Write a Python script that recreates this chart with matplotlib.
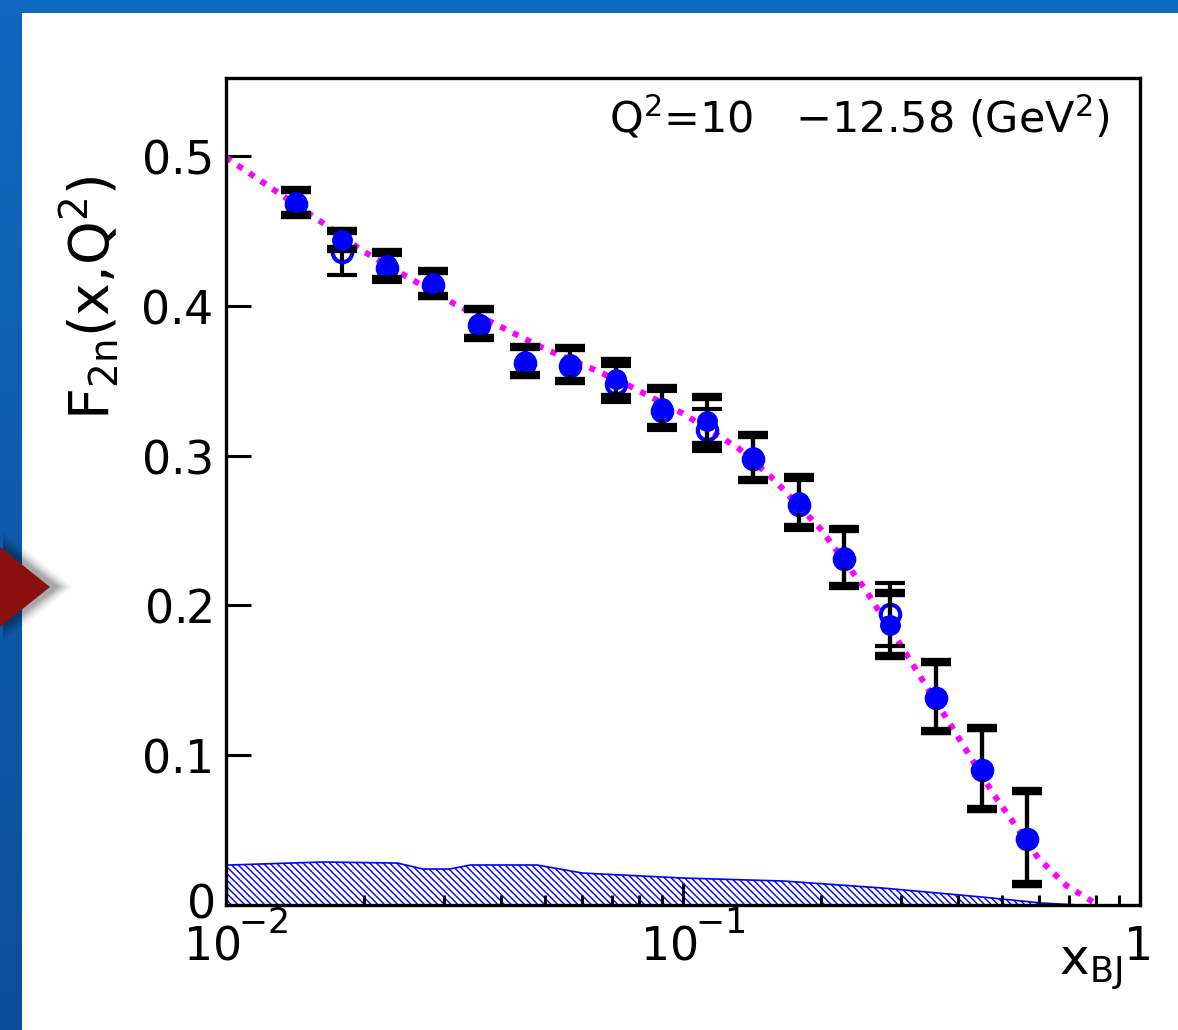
import numpy as np
import matplotlib.pyplot as plt
from matplotlib.patches import Polygon, Rectangle
from matplotlib.colors import LinearSegmentedColormap
import matplotlib.transforms as mtransforms

plt.rcParams['font.family'] = ['DejaVu Sans']
plt.rcParams['mathtext.default'] = 'regular'
plt.rcParams['hatch.linewidth'] = 1.0

# x_BJ bins
xbj = [0.0142, 0.0179, 0.0225, 0.0284, 0.0357, 0.045, 0.0566, 0.0713, 0.0898,
       0.113, 0.142, 0.179, 0.225, 0.284, 0.357, 0.45, 0.566]

# F2n, filled points (thick caps)
f2n_a = [0.469, 0.444, 0.427, 0.415, 0.388, 0.363, 0.361, 0.351, 0.332,
         0.323, 0.299, 0.269, 0.232, 0.187, 0.139, 0.091, 0.045]
err_a = [0.0085, 0.006, 0.009, 0.0085, 0.0095, 0.0095, 0.011, 0.012, 0.013,
         0.016, 0.015, 0.017, 0.019, 0.021, 0.023, 0.027, 0.031]

# F2n, open points (thin caps)
f2n_b = [0.468, 0.436, 0.425, 0.414, 0.387, 0.362, 0.360, 0.348, 0.330,
         0.317, 0.298, 0.267, 0.231, 0.194, 0.138, 0.090, 0.044]
err_b = [0.008, 0.0155, 0.009, 0.009, 0.0095, 0.0095, 0.011, 0.012, 0.013,
         0.014, 0.015, 0.017, 0.019, 0.021, 0.023, 0.027, 0.031]

# parametrisation curve
curve_x = [0.01, 0.0158, 0.0198, 0.025, 0.0317, 0.0399, 0.050, 0.0632, 0.0758,
           0.1, 0.132, 0.158, 0.2, 0.25, 0.30, 0.38, 0.478, 0.60, 0.69, 0.79]
curve_y = [0.499, 0.458, 0.437, 0.419, 0.401, 0.386, 0.371, 0.358, 0.347,
           0.328, 0.305, 0.284, 0.251, 0.211, 0.173, 0.123, 0.074, 0.031, 0.013, 0.002]

# systematic error band
band_x = [0.01, 0.0102, 0.0163, 0.0237, 0.0270, 0.0309, 0.0342, 0.0479, 0.0604,
          0.1, 0.166, 0.274, 0.452, 0.611, 0.73]
band_y = [0.0267, 0.0267, 0.0287, 0.028, 0.024, 0.024, 0.0267, 0.0267, 0.0213,
          0.018, 0.016, 0.0113, 0.0053, 0.0013, 0.0]

yticks = [0, 0.1, 0.2, 0.3, 0.4, 0.5]
ytick_labels = ['0', '0.1', '0.2', '0.3', '0.4', '0.5']
# decade labels: position, mantissa, exponent
xdecades = [(0.01, '10', '\u22122'), (0.1, '10', '\u22121'), (1.0, '1', '')]

W, H = 1178, 1030
fig = plt.figure(figsize=(W / 100, H / 100), dpi=100)
fig.patch.set_facecolor('white')

# blue frame: top bar and shaded left bar
fig.patches.append(Rectangle((0, 1 - 13 / H), 1, 13 / H, transform=fig.transFigure,
                             facecolor='#1068be', edgecolor='none', zorder=0))
side = fig.add_axes([0, 0, 21 / W, 1 - 13 / H])
cmap = LinearSegmentedColormap.from_list('side', ['#0c4e9b', '#1068be'])
side.imshow(np.linspace(0, 1, 256).reshape(-1, 1), cmap=cmap, aspect='auto',
            origin='lower', extent=[0, 1, 0, 1])
side.set_axis_off()

# red arrow with soft shadow
tri = np.array([[0, 547], [50, 587], [0, 627]], dtype=float)
for k, a in zip(range(16, 0, -2), [0.025, 0.03, 0.035, 0.04, 0.05, 0.06, 0.07, 0.08]):
    sh = tri + np.array([[0, -k], [k + 4, 0], [0, k]])
    sh[:, 0] += 3
    fig.patches.append(Polygon(np.c_[sh[:, 0] / W, 1 - sh[:, 1] / H], closed=True,
                               transform=fig.transFigure, facecolor='black',
                               edgecolor='none', alpha=a, zorder=1))
fig.patches.append(Polygon(np.c_[tri[:, 0] / W, 1 - tri[:, 1] / H], closed=True,
                           transform=fig.transFigure, facecolor='#8a1010',
                           edgecolor='none', zorder=2))

ax = fig.add_axes([226 / W, 1 - 905 / H, (1140 - 226) / W, (905 - 78) / H])
ax.set_xscale('log')
ax.set_xlim(0.01, 1)
ax.set_ylim(0, 0.552)

ax.fill_between(band_x, 0, band_y, facecolor='none', edgecolor='#0000ff',
                hatch='\\\\\\\\\\', linewidth=0, zorder=1)
ax.plot(band_x, band_y, color='#0000ff', lw=1.2, zorder=1)

ax.plot(curve_x, curve_y, color='#ff00ff', lw=4.3, linestyle=(0, (1, 1.35)),
        dash_capstyle='butt', zorder=2)

ax.errorbar(xbj, f2n_b, yerr=err_b, fmt='o', color='#0000ff', mfc='none', mec='#0000ff',
            mew=3, ms=14, ecolor='black', elinewidth=3, capsize=11, capthick=2.2, zorder=3)
ax.errorbar(xbj, f2n_a, yerr=err_a, fmt='o', color='#0000ff', mfc='#0000ff', mec='#0000ff',
            ms=14, ecolor='black', elinewidth=3, capsize=11, capthick=6, zorder=4)

for s in ax.spines.values():
    s.set_linewidth(2.4)

# y labels: the one at zero is drawn by hand so it sits just above the x labels
ax.set_yticks(yticks)
ax.set_yticklabels(['' if s == '0' else '$%s$' % s for s in ytick_labels])
ax.tick_params(axis='y', which='major', direction='in', length=18, width=2.2,
               labelsize=33, pad=10, right=False)
ax.tick_params(axis='y', which='minor', left=False, right=False)
ax.tick_params(axis='x', which='major', direction='in', length=16, width=2.2,
               top=False, labelbottom=False)
ax.tick_params(axis='x', which='minor', direction='in', length=7, width=2.2, top=False)
fig.text(214 / W, 1 - 918 / H, '$0$', ha='right', va='baseline', fontsize=33)

# decade labels on the x axis, mantissa and exponent drawn separately
trans = mtransforms.blended_transform_factory(ax.transData, fig.transFigure)
for xv, mant, expo in xdecades:
    if expo:
        off = mtransforms.ScaledTranslation(14 / 100, 0, fig.dpi_scale_trans)
        ax.text(xv, 1 - 960 / H, '$%s$' % mant, transform=trans + off, ha='right',
                va='baseline', fontsize=33)
        off2 = mtransforms.ScaledTranslation(12 / 100, 0, fig.dpi_scale_trans)
        ax.text(xv, 1 - 933 / H, '$%s$' % expo, transform=trans + off2, ha='left',
                va='baseline', fontsize=25)
    else:
        off = mtransforms.ScaledTranslation(-4 / 100, 0, fig.dpi_scale_trans)
        ax.text(xv, 1 - 960 / H, '$%s$' % mant, transform=trans + off, ha='center',
                va='baseline', fontsize=33)

fig.text(1122 / W, 1 - 975 / H, r'x$_{BJ}$', ha='right', va='baseline', fontsize=36)
fig.text(90 / W, 1 - 298 / H, r'F$_{2n}$(x,Q$^{2}$)', ha='center', va='center',
         rotation=90, fontsize=40)
fig.text(1110 / W, 1 - 118 / H, 'Q$^{2}$=10   \u221212.58 (GeV$^{2}$)', ha='right',
         va='center', fontsize=31)

fig.savefig('out.png', dpi=100)
